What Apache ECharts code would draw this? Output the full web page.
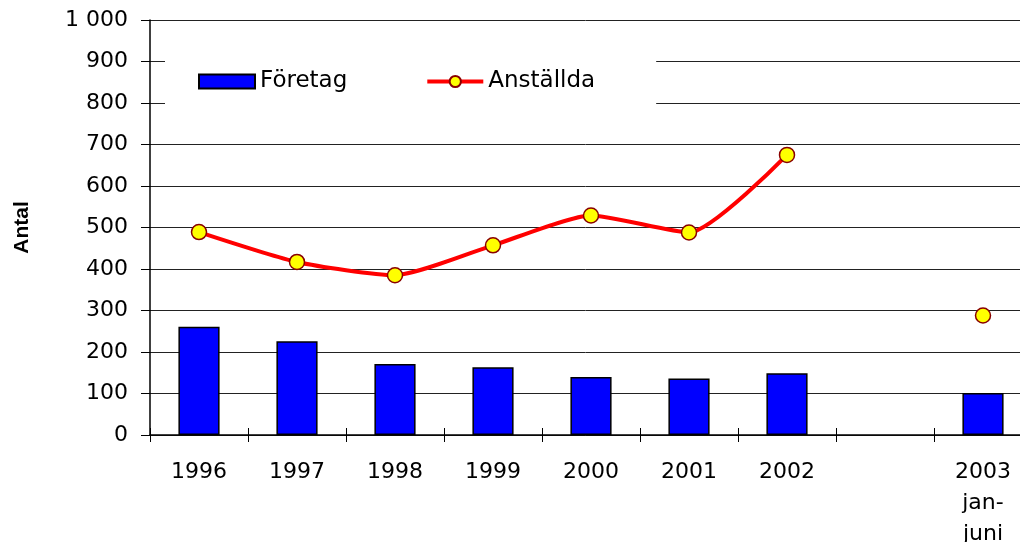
<!DOCTYPE html>
<html>
<head>
<meta charset="utf-8">
<script src="https://cdn.jsdelivr.net/npm/echarts@6/dist/echarts.min.js"></script>
<style>html,body{margin:0;padding:0;background:#fff}#c{width:1020px;height:542px}</style>
</head>
<body>
<div id="c"></div>
<script>
const categories = ['1996','1997','1998','1999','2000','2001','2002','','2003\njan-\njuni'];
const foretag = [261, 226, 171, 163, 140, 136, 149, null, 101];
const anstallda = [489, 417, 385, 457, 529, 488, 675, null, 288];
const yTicks = {min: 0, max: 1000, interval: 100};

const font = 'DejaVu Sans';
const chart = echarts.init(document.getElementById('c'));
chart.setOption({
  animation: false,
  backgroundColor: '#fff',
  grid: {left: 150, top: 20, width: 882, height: 415, outerBoundsMode: 'none', containLabel: false},
  legend: {
    left: 165, top: 50,
    backgroundColor: '#fff',
    padding: [20, 61, 20, 33],
    itemGap: 78,
    itemWidth: 56, itemHeight: 14,
    textStyle: {fontFamily: font, fontSize: 23, color: '#000'},
    data: [
      {name: 'Företag', icon: 'rect'},
      {name: 'Anställda', lineStyle: {width: 4, color: '#ff0000'}}
    ]
  },
  xAxis: [{
    type: 'category', data: categories,
    axisLine: {lineStyle: {color: '#000', width: 1.5}},
    axisTick: {show: true, interval: 0, length: 7, lineStyle: {color: '#000'}},
    axisLabel: {interval: 0, margin: 22, fontFamily: font, fontSize: 22, color: '#000', lineHeight: 31},
    splitLine: {show: false}
  }, {
    type: 'category', data: categories, position: 'bottom',
    axisLine: {show: false},
    axisTick: {show: true, inside: true, interval: 0, length: 7, lineStyle: {color: '#000'}},
    axisLabel: {show: false}
  }],
  yAxis: {
    type: 'value', min: yTicks.min, max: yTicks.max, interval: yTicks.interval,
    name: 'Antal', nameLocation: 'middle', nameGap: 117, nameRotate: 90,
    nameTextStyle: {fontFamily: 'Liberation Sans', fontWeight: 'bold', fontSize: 21, color: '#000'},
    axisLine: {show: true, lineStyle: {color: '#000', width: 1.5}},
    axisTick: {show: true, length: 9, lineStyle: {color: '#000'}},
    axisLabel: {
      margin: 22, fontFamily: font, fontSize: 22, color: '#000',
      formatter: v => v >= 1000 ? String(v).replace(/\B(?=(\d{3})+(?!\d))/g, ' ') : String(v)
    },
    splitLine: {lineStyle: {color: '#222', width: 1}}
  },
  series: [{
    name: 'Företag', type: 'bar', data: foretag,
    barWidth: '42%',
    itemStyle: {color: '#0000ff', borderColor: '#000', borderWidth: 1.5}
  }, {
    name: 'Anställda', type: 'line', data: anstallda,
    smooth: 0.2, connectNulls: false,
    symbol: 'circle', symbolSize: 15, showSymbol: true,
    lineStyle: {color: '#ff0000', width: 4},
    itemStyle: {color: '#ffff00', borderColor: '#880000', borderWidth: 1.5},
    z: 3
  }]
});
</script>
</body>
</html>
